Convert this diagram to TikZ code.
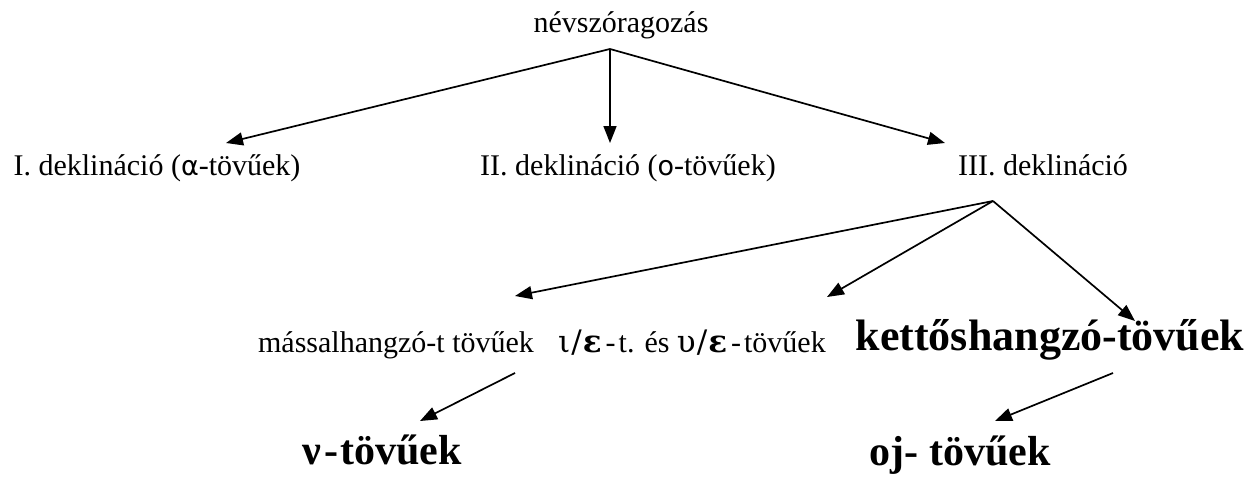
\documentclass[tikz,border=0pt]{standalone}
\usepackage{fontspec}
\setmainfont{Liberation Serif}
\newfontfamily\gsans{DejaVu Sans}
\newfontfamily\gserif{DejaVu Serif}
\usetikzlibrary{arrows.meta}
\tikzset{
  lbl/.style={inner sep=0pt, anchor=base, font=\fontsize{30}{36}\selectfont},
  big/.style={inner sep=0pt, anchor=base, font=\fontsize{42}{48}\selectfont\bfseries},
  arr/.style={line width=1.7pt, -{Triangle[length=17pt,width=13pt]}}
}
\newcommand{\gk}[1]{{\gserif\fontsize{31}{36}\selectfont #1}}
\begin{document}
\begin{tikzpicture}[x=1pt,y=-1pt]
\useasboundingbox (0,0) rectangle (1248,479);
% texts
\node[lbl] (root) at (621,32) {névszóragozás};
\node[lbl] (d1) at (157,175) {I. deklináció ({\gsans\fontsize{27}{32}\selectfont α}-tövűek)};
\node[lbl] (d2) at (628,175) {II. deklináció ({\gsans\fontsize{27}{32}\selectfont ο}-tövűek)};
\node[lbl] (d3) at (1043,175) {III. deklináció};
\node[lbl] (mass) at (396,352) {mássalhangzó-t tövűek};
\node[lbl] (iota) at (692,352) {\gk{ι\kern1pt/\kern1pt\textbf{ε}}\kern4pt-\kern3pt t. és \gk{υ\kern1pt/\kern1pt\textbf{ε}}\kern4pt-\kern3pt tövűek};
\node[big, font=\fontsize{44}{50}\selectfont\bfseries] (kett) at (1050,350) {kettőshangzó-tövűek};
\node[big] (nu) at (382,464) {ν\kern3pt-\kern2pt tövűek};
\node[big] (oj) at (960,465) {oj- tövűek};
% branch points and tips
\coordinate (r0) at (610,49);
\coordinate (t1) at (226,143);
\coordinate (t2) at (610,143);
\coordinate (t3) at (945,143);
\coordinate (b3) at (993,201);
\coordinate (tm) at (515,296);
\coordinate (ti) at (827,297);
\coordinate (tk) at (1135,321);
\coordinate (bm) at (515,373);
\coordinate (tn) at (420,421);
\coordinate (bk) at (1113,373);
\coordinate (to) at (995,421);
% connectors
\draw[arr] (r0) -- (t1);
\draw[arr] (r0) -- (t2);
\draw[arr] (r0) -- (t3);
\draw[arr] (b3) -- (tm);
\draw[arr] (b3) -- (ti);
\draw[arr] (b3) -- (tk);
\draw[arr] (bm) -- (tn);
\draw[arr] (bk) -- (to);
\end{tikzpicture}
\end{document}
